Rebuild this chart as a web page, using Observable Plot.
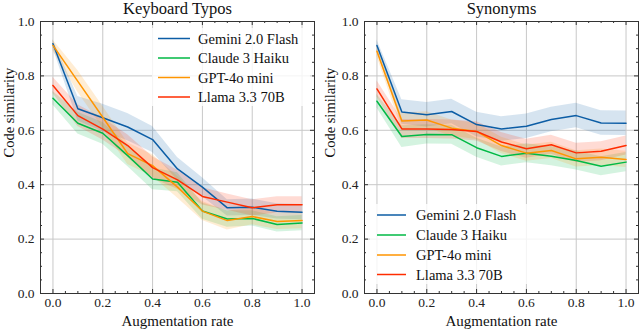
<!DOCTYPE html>
<html>
<head>
<meta charset="utf-8">
<script src="https://cdn.jsdelivr.net/npm/d3@7"></script>
<script src="https://cdn.jsdelivr.net/npm/@observablehq/plot@0.6"></script>
<style>
  html, body { margin: 0; padding: 0; background: #fff; }
  #wrap { display: flex; width: 640px; height: 329px; }
  #wrap svg text { font-family: "Liberation Serif", serif; }
</style>
</head>
<body>
<div id="wrap"></div>
<script>
// ---------- data ----------
const rates = [0, 0.1, 0.2, 0.3, 0.4, 0.5, 0.6, 0.7, 0.8, 0.9, 1.0];
const models = ["Gemini 2.0 Flash", "Claude 3 Haiku", "GPT-4o mini", "Llama 3.3 70B"];
const colors = ["#0C5DA5", "#00B945", "#FF9500", "#FF2C00"];

// Keyboard Typos (mean, band half-width)
const typosGemini = [0.918, 0.679, 0.646, 0.612, 0.566, 0.458, 0.391, 0.315, 0.317, 0.302, 0.299];
const typosClaude = [0.718, 0.626, 0.589, 0.507, 0.421, 0.409, 0.303, 0.274, 0.276, 0.254, 0.259];
const typosGpt    = [0.912, 0.780, 0.648, 0.514, 0.470, 0.391, 0.303, 0.268, 0.283, 0.265, 0.268];
const typosLlama  = [0.765, 0.654, 0.604, 0.544, 0.463, 0.418, 0.357, 0.336, 0.315, 0.326, 0.326];
const typosGeminiErr = [0.015, 0.045, 0.05, 0.05, 0.048, 0.042, 0.035, 0.03, 0.03, 0.028, 0.028];
const typosClaudeErr = [0.025, 0.04, 0.04, 0.04, 0.04, 0.035, 0.03, 0.03, 0.028, 0.028, 0.028];
const typosGptErr    = [0.02, 0.04, 0.04, 0.04, 0.04, 0.04, 0.035, 0.035, 0.03, 0.03, 0.03];
const typosLlamaErr  = [0.03, 0.04, 0.04, 0.04, 0.04, 0.035, 0.032, 0.03, 0.03, 0.03, 0.03];

// Synonyms
const synGemini = [0.912, 0.667, 0.657, 0.669, 0.621, 0.605, 0.615, 0.640, 0.654, 0.627, 0.626];
const synClaude = [0.707, 0.577, 0.585, 0.584, 0.536, 0.504, 0.516, 0.505, 0.489, 0.468, 0.483];
const synGpt    = [0.891, 0.634, 0.638, 0.608, 0.596, 0.544, 0.516, 0.526, 0.495, 0.501, 0.493];
const synLlama  = [0.752, 0.605, 0.605, 0.603, 0.596, 0.557, 0.532, 0.547, 0.517, 0.523, 0.544];
const synGeminiErr = [0.02, 0.045, 0.045, 0.045, 0.045, 0.045, 0.045, 0.045, 0.045, 0.045, 0.045];
const synClaudeErr = [0.025, 0.04, 0.035, 0.035, 0.035, 0.035, 0.035, 0.035, 0.035, 0.035, 0.035];
const synGptErr    = [0.02, 0.03, 0.03, 0.03, 0.03, 0.03, 0.03, 0.03, 0.03, 0.03, 0.03];
const synLlamaErr  = [0.03, 0.035, 0.035, 0.035, 0.035, 0.035, 0.035, 0.035, 0.035, 0.035, 0.035];

const majorTicks = [0, 0.2, 0.4, 0.6, 0.8, 1.0];
const minorTicks = d3.range(0, 21).map(i => i * 0.05).filter(v => Math.abs(v * 5 - Math.round(v * 5)) > 1e-6);

function rows(series, errs) {
  const out = [];
  series.forEach((vals, k) => {
    vals.forEach((v, i) => out.push({model: models[k], k, x: rates[i], y: v, lo: v - errs[k][i], hi: v + errs[k][i]}));
  });
  return out;
}

const FONT = "Liberation Serif";

const panels = [
  {title: "Keyboard Typos", data: rows([typosGemini, typosClaude, typosGpt, typosLlama], [typosGeminiErr, typosClaudeErr, typosGptErr, typosLlamaErr]),
   marginLeft: 40, marginRight: 6, ylabDx: -31,
   legend: {bx: 152, by: 28, bw: 160, bh: 78, lx1: 158, lx2: 190, tx: 198, ys: [38.5, 58, 77.5, 97]}},
  {title: "Synonyms", data: rows([synGemini, synClaude, synGpt, synLlama], [synGeminiErr, synClaudeErr, synGptErr, synLlamaErr]),
   marginLeft: 44, marginRight: 2, ylabDx: -34.5,
   legend: {bx: 50, by: 204, bw: 190, bh: 80, lx1: 57, lx2: 86, tx: 96, ys: [215, 235, 255, 274.5]}}
];

const W = 320, H = 329, MT = 21, MB = 36;
const innerH = H - MT - MB;
const frameColor = "#333";

panels.forEach(p => {
  const innerW = W - p.marginLeft - p.marginRight;
  const chart = Plot.plot({
    width: W, height: H,
    marginTop: MT, marginBottom: MB, marginLeft: p.marginLeft, marginRight: p.marginRight,
    style: {fontFamily: FONT, fontSize: "13.5px", background: "#fff", color: "#222"},
    x: {domain: [-0.05, 1.05]},
    y: {domain: [0, 1]},
    color: {domain: models, range: colors},
    marks: [
      Plot.gridX(majorTicks, {stroke: "#c8c8c8", strokeOpacity: 1, strokeWidth: 1}),
      Plot.gridY(majorTicks, {stroke: "#c8c8c8", strokeOpacity: 1, strokeWidth: 1}),
      Plot.areaY(p.data, {x: "x", y1: "lo", y2: "hi", z: "model", fill: "model", fillOpacity: 0.17}),
      Plot.line(p.data, {x: "x", y: "y", z: "model", stroke: "model", strokeWidth: 1.5}),
      // inward ticks, all four sides
      Plot.tickX(majorTicks, {x: d => d, stroke: frameColor, insetTop: innerH - 4}),
      Plot.tickX(majorTicks, {x: d => d, stroke: frameColor, insetBottom: innerH - 4}),
      Plot.tickX(minorTicks, {x: d => d, stroke: frameColor, insetTop: innerH - 2}),
      Plot.tickX(minorTicks, {x: d => d, stroke: frameColor, insetBottom: innerH - 2}),
      Plot.tickY(majorTicks, {y: d => d, stroke: frameColor, insetRight: innerW - 4}),
      Plot.tickY(majorTicks, {y: d => d, stroke: frameColor, insetLeft: innerW - 4}),
      Plot.tickY(minorTicks, {y: d => d, stroke: frameColor, insetRight: innerW - 2}),
      Plot.tickY(minorTicks, {y: d => d, stroke: frameColor, insetLeft: innerW - 2}),
      Plot.axisX(majorTicks, {tickSize: 0, tickPadding: 4, tickFormat: d3.format(".1f"), label: null, fontSize: 13.5, fontFamily: FONT, fill: "#222"}),
      Plot.axisY(majorTicks, {tickSize: 0, tickPadding: 6, tickFormat: d3.format(".1f"), label: null, fontSize: 13.5, fontFamily: FONT, fill: "#222"}),
      Plot.frame({stroke: frameColor, strokeWidth: 1}),
      Plot.text([p.title], {frameAnchor: "top", lineAnchor: "middle", dy: -12.5, fontSize: 16.5, fontFamily: FONT, fill: "#111"}),
      Plot.text(["Augmentation rate"], {frameAnchor: "bottom", lineAnchor: "middle", dy: 27.5, fontSize: 15, fontFamily: FONT, fill: "#111"}),
      Plot.text(["Code similarity"], {frameAnchor: "left", lineAnchor: "middle", dx: p.ylabDx, rotate: -90, fontSize: 14.5, fontFamily: FONT, fill: "#111"})
    ]
  });
  // legend
  const svg = d3.select(chart);
  const L = p.legend;
  const g = svg.append("g").attr("font-family", FONT).attr("font-size", 14.5).attr("text-anchor", "start");
  g.append("rect").attr("x", L.bx).attr("y", L.by).attr("width", L.bw).attr("height", L.bh)
    .attr("fill", "#fff").attr("fill-opacity", 0.8);
  models.forEach((m, i) => {
    g.append("line").attr("x1", L.lx1).attr("x2", L.lx2).attr("y1", L.ys[i]).attr("y2", L.ys[i])
      .attr("stroke", colors[i]).attr("stroke-width", 1.5);
    g.append("text").attr("x", L.tx).attr("y", L.ys[i]).attr("dy", "0.35em")
      .attr("text-anchor", "start").attr("fill", "#111").text(m);
  });
  document.getElementById("wrap").appendChild(chart);
});
</script>
</body>
</html>
